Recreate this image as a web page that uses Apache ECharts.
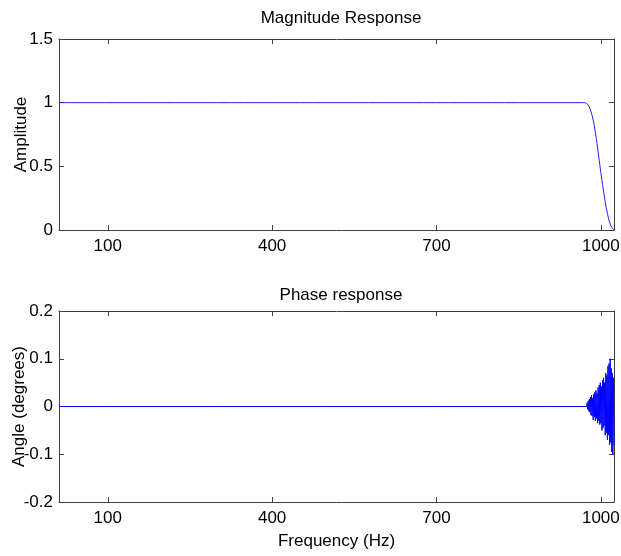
<!DOCTYPE html>
<html>
<head>
<meta charset="utf-8">
<script src="https://cdn.jsdelivr.net/npm/echarts@6/dist/echarts.min.js"></script>
<style>html,body{margin:0;padding:0;background:#fff}#c{width:621px;height:556px}</style>
</head>
<body>
<div id="c"></div>
<script>
var xTicks = [100, 400, 700, 1000];
var magX = [11, 100, 200, 300, 400, 500, 600, 700, 800, 900, 960, 968, 972, 976, 980, 984, 988, 992, 996, 1000, 1004, 1008, 1012, 1016, 1020, 1024];
var magY = [1, 1, 1, 1, 1, 1, 1, 1, 1, 1, 1, 1, 0.998, 0.985, 0.955, 0.9, 0.82, 0.71, 0.58, 0.45, 0.33, 0.22, 0.13, 0.06, 0.02, 0];
var phaseX = [11, 100, 300, 500, 700, 900, 974,
  975, 976, 977, 978, 979, 980, 981, 982, 983, 984, 985, 986, 987, 988, 989, 990,
  991, 992, 993, 994, 995, 996, 997, 998, 999, 1000, 1001, 1002, 1003, 1004, 1005, 1006, 1007, 1008,
  1009, 1010, 1011, 1012, 1013, 1014, 1015, 1016, 1017, 1018, 1019, 1020, 1021, 1022, 1023, 1024];
var phaseY = [0, 0, 0, 0, 0, 0, 0,
  0.008, -0.006, 0.012, -0.01, 0.015, -0.012, 0.02, -0.018, 0.024, -0.02, 0.018, -0.028, 0.026, -0.022, 0.03, -0.03,
  0.034, -0.025, 0.028, -0.035, 0.04, -0.03, 0.045, -0.038, 0.05, -0.035, 0.042, -0.05, 0.055, -0.045, 0.06, -0.04, 0.05, -0.06,
  0.07, -0.055, 0.065, -0.07, 0.085, -0.06, 0.09, -0.08, 0.1, -0.075, 0.08, -0.095, 0.07, -0.1, 0.06, -0.08];

function pairs(xs, ys) { return xs.map(function (x, i) { return [x, ys[i]]; }); }

var FONT = 'Liberation Sans';
var FS = 17;
var AX = '#404040';
function xAx(grid, pos, labels, name) {
  return {
    type: 'value', gridIndex: grid, position: pos, min: 11, max: 1024,
    axisLine: { show: true, onZero: false, lineStyle: { color: AX, width: 1 } },
    axisTick: { show: true, inside: true, length: 5, customValues: xTicks, lineStyle: { color: AX } },
    axisLabel: { show: labels, customValues: xTicks, color: '#000', fontFamily: FONT, fontSize: FS, margin: 8,
      formatter: function (v) { return String(v); } },
    splitLine: { show: false },
    name: name || '', nameLocation: 'middle', nameGap: 31, nameMoveOverlap: false,
    nameTextStyle: { color: '#000', fontFamily: FONT, fontSize: FS }
  };
}
function yAx(grid, pos, labels, min, max, interval, name, gap) {
  return {
    type: 'value', gridIndex: grid, position: pos, min: min, max: max, interval: interval,
    axisLine: { show: true, onZero: false, lineStyle: { color: AX, width: 1 } },
    axisTick: { show: true, inside: true, length: 5, lineStyle: { color: AX } },
    axisLabel: { show: labels, color: '#000', fontFamily: FONT, fontSize: FS, margin: 6 },
    splitLine: { show: false },
    name: name || '', nameLocation: 'middle', nameGap: gap || 30, nameMoveOverlap: false,
    nameTextStyle: { color: '#000', fontFamily: FONT, fontSize: FS }
  };
}

var chart = echarts.init(document.getElementById('c'));
chart.setOption({
  animation: false,
  backgroundColor: '#fff',
  title: [
    { text: 'Magnitude Response', left: 336, top: 5, textAlign: 'center', textStyle: { fontFamily: FONT, fontSize: FS, fontWeight: 'normal', color: '#000' } },
    { text: 'Phase response', left: 336, top: 282, textAlign: 'center', textStyle: { fontFamily: FONT, fontSize: FS, fontWeight: 'normal', color: '#000' } }
  ],
  grid: [
    { left: 59, right: 7, top: 39, height: 191, containLabel: false, outerBoundsMode: 'none' },
    { left: 59, right: 7, top: 311, height: 191, containLabel: false, outerBoundsMode: 'none' }
  ],
  xAxis: [
    xAx(0, 'bottom', true),
    xAx(1, 'bottom', true, 'Frequency (Hz)'),
    xAx(0, 'top', false),
    xAx(1, 'top', false)
  ],
  yAxis: [
    yAx(0, 'left', true, 0, 1.5, 0.5, 'Amplitude', 29),
    yAx(1, 'left', true, -0.2, 0.2, 0.1, 'Angle (degrees)', 31),
    yAx(0, 'right', false, 0, 1.5, 0.5),
    yAx(1, 'right', false, -0.2, 0.2, 0.1)
  ],
  series: [
    { type: 'line', xAxisIndex: 0, yAxisIndex: 0, data: pairs(magX, magY), showSymbol: false, smooth: 0.3,
      lineStyle: { color: '#2020ff', width: 1 } },
    { type: 'line', xAxisIndex: 1, yAxisIndex: 1, data: pairs(phaseX, phaseY), showSymbol: false,
      lineStyle: { color: '#0000ff', width: 1 } }
  ]
});
</script>
</body>
</html>
